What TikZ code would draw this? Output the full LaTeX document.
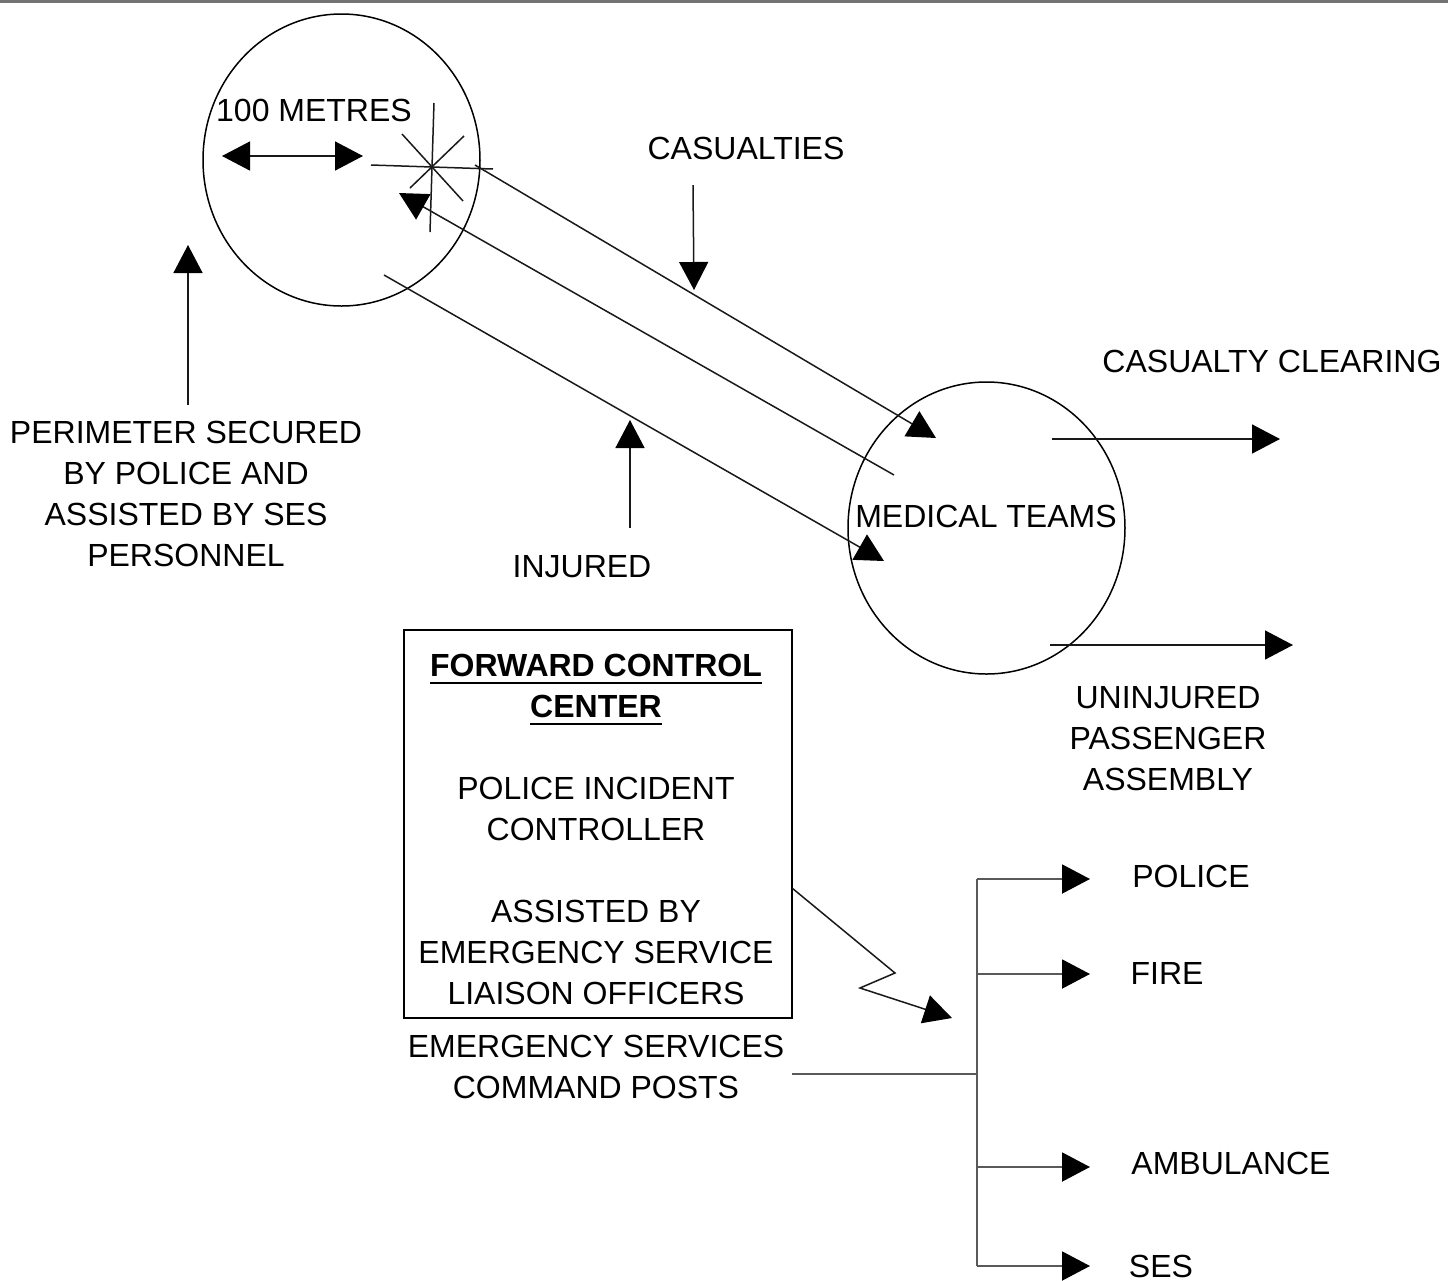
\documentclass[tikz,border=0pt]{standalone}
\usepackage{fontspec}
\setmainfont{Liberation Sans}
\usetikzlibrary{arrows.meta,shapes.geometric}
\newcommand\myul[1]{\setbox0\hbox{#1}\rlap{\rule[-4pt]{\wd0}{0.8pt}}\box0}
\begin{document}
\begin{tikzpicture}[x=0.5pt,y=-0.5pt,
  txt/.style={align=center,inner sep=0pt,font=\fontsize{16}{20.5}\selectfont},
  ln/.style={line width=0.75pt,draw=black!90},
  bus/.style={line width=1pt,draw=black!65},
  tri/.tip={Triangle[length=14pt,width=14.5pt,color=black]},
  zone/.style={ellipse,draw,line width=0.75pt,inner sep=0pt,minimum width=138.5pt,minimum height=146pt}]
\useasboundingbox (0,0) rectangle (1448,1281);
\draw[line width=1.5pt,draw=black!55] (0,1.5) -- (1448,1.5);
% zones
\node[zone] (c1) at (341.5,160) {};
\node[zone] (c2) at (986.5,528) {};
% texts
\node[txt] (m100) at (314,110) {100 METRES};
\node[txt] (cas) at (746,148) {CASUALTIES};
\node[txt] (clear) at (1272,361) {CASUALTY CLEARING};
\node[txt] (perim) at (186,494) {PERIMETER SECURED\\BY POLICE AND\\ASSISTED BY SES\\PERSONNEL};
\node[txt] (inj) at (582,567) {INJURED};
\node[txt] (med) at (986,516) {MEDICAL TEAMS};
\node[txt] (unin) at (1168,739) {UNINJURED\\PASSENGER\\ASSEMBLY};
\node[draw,line width=0.75pt,minimum width=194pt,minimum height=194pt,inner sep=0pt] (fcc) at (598,824) {};
\node[txt] (fcct) at (596,829) {\textbf{\myul{FORWARD CONTROL}}\\\textbf{\myul{CENTER}}\\[20.5pt]POLICE INCIDENT\\CONTROLLER\\[20.5pt]ASSISTED BY\\EMERGENCY SERVICE\\LIAISON OFFICERS};
\node[txt] (escp) at (596,1067) {EMERGENCY SERVICES\\COMMAND POSTS};
\node[txt] (pol) at (1191,876) {POLICE};
\node[txt] (fire) at (1167,973) {FIRE};
\node[txt] (amb) at (1231,1163) {AMBULANCE};
\node[txt] (ses) at (1161,1266) {SES};
% star (incident)
\draw[ln] (434,103) -- (430,232);
\draw[ln] (371,165) -- (493,169);
\draw[ln] (402,134) -- (463,201);
\draw[ln] (464,136) -- (410,188);
% coordinates
\coordinate (dl) at (222,156); \coordinate (dr) at (363,156);
\coordinate (pa) at (188,405); \coordinate (pb) at (188,245);
\coordinate (ca) at (693,185); \coordinate (cb) at (694,290);
\coordinate (ia) at (630,528); \coordinate (ib) at (630,420);
\coordinate (ka) at (1052,439); \coordinate (kb) at (1280,439);
\coordinate (ua) at (1050,645); \coordinate (ub) at (1293,645);
\coordinate (la) at (475,165); \coordinate (lb) at (936,438);
\coordinate (ma) at (894,475); \coordinate (mb) at (399,193);
\coordinate (na) at (384,275); \coordinate (nb) at (884,561);
\coordinate (za) at (792,888); \coordinate (z1) at (895,973); \coordinate (z2) at (860,988); \coordinate (zb) at (952,1018);
\coordinate (ea) at (792,1074); \coordinate (eb) at (977,1074);
\coordinate (bt) at (977,879); \coordinate (bb) at (977,1266);
\coordinate (b1) at (977,879); \coordinate (b2) at (977,974); \coordinate (b3) at (977,1167); \coordinate (b4) at (977,1266);
\coordinate (t1) at (1090,879); \coordinate (t2) at (1090,974); \coordinate (t3) at (1090,1167); \coordinate (t4) at (1090,1266);
% arrows
\draw[ln,{tri}-{tri}] (dl) -- (dr);
\draw[ln,-{tri}] (pa) -- (pb);
\draw[ln,-{tri}] (ca) -- (cb);
\draw[ln,-{tri}] (ia) -- (ib);
\draw[ln,-{tri}] (ka) -- (kb);
\draw[ln,-{tri}] (ua) -- (ub);
\draw[ln,-{tri}] (la) -- (lb);
\draw[ln,-{tri}] (ma) -- (mb);
\draw[ln,-{tri}] (na) -- (nb);
\draw[ln,-{tri}] (za) -- (z1) -- (z2) -- (zb);
\draw[bus] (ea) -- (eb);
\draw[bus] (bt) -- (bb);
\draw[bus,-{tri}] (b1) -- (t1);
\draw[bus,-{tri}] (b2) -- (t2);
\draw[bus,-{tri}] (b3) -- (t3);
\draw[bus,-{tri}] (b4) -- (t4);
\end{tikzpicture}
\end{document}
